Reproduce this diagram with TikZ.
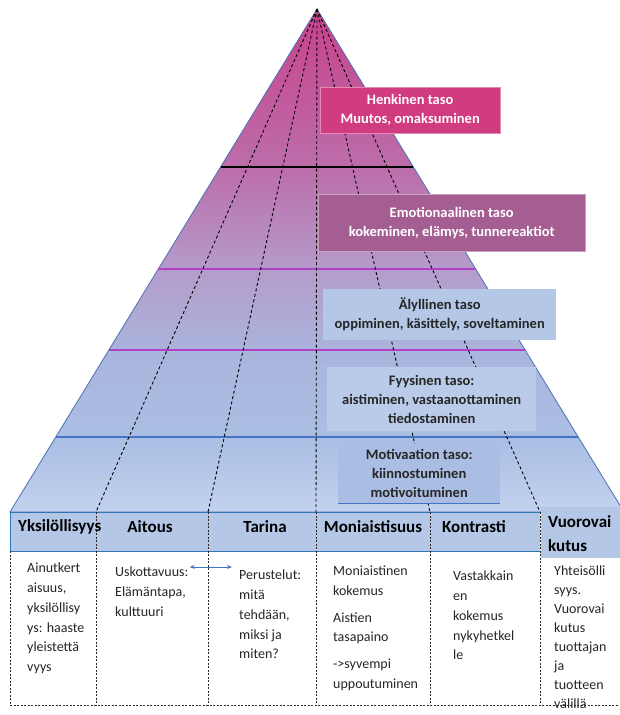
\documentclass[tikz,border=0pt]{standalone}
\usepackage{fontspec}
\setmainfont{Carlito}
\usepackage{tikz}
\usetikzlibrary{calc, positioning, arrows.meta}
\definecolor{pyrTop}{HTML}{C8418A}
\definecolor{pyrMauve}{HTML}{BC6EAB}
\definecolor{pyrLilac}{HTML}{B49CCB}
\definecolor{pyrLav}{HTML}{AAB4DC}
\definecolor{pyrBlue}{HTML}{AABFE4}
\definecolor{pyrBase}{HTML}{C3D2EE}
\definecolor{edgeBlue}{HTML}{4A72B0}
\definecolor{henkiPink}{HTML}{D13C80}
\definecolor{emoMauve}{HTML}{A55E92}
\definecolor{lightBlue}{HTML}{B4C7E7}
\definecolor{paleBlue}{HTML}{B9CBE9}
\definecolor{motiBlue}{HTML}{AABEE3}
\definecolor{lineViolet}{HTML}{B040C4}
\definecolor{rowBlue}{HTML}{2E75B6}
\definecolor{arrowBlue}{HTML}{4472C4}
\definecolor{inkDark}{HTML}{262626}
\pgfdeclareverticalshading{pyramid}{100bp}{color(0bp)=(pyrBase); color(25bp)=(pyrBase);
  color(32bp)=(pyrBlue); color(41bp)=(pyrLav); color(49bp)=(pyrLilac);
  color(59bp)=(pyrMauve); color(75bp)=(pyrTop); color(100bp)=(pyrTop)}
\tikzset{
  levelbox/.style = {anchor=north west, align=center, inner sep=0pt,
                     font=\bfseries\fontsize{14.5}{19}\selectfont},
  fan/.style      = {draw=black, line width=0.9pt, dash pattern=on 3pt off 2.5pt},
  coldiv/.style   = {draw=inkDark, line width=0.6pt, dash pattern=on 2pt off 1.5pt},
  levelline/.style= {line width=1.2pt},
  headcell/.style = {anchor=north west, fill=lightBlue, inner sep=0pt},
  headtxt/.style  = {font=\bfseries\fontsize{17}{24}\selectfont, inner sep=0pt, text=black},
  celltxt/.style  = {anchor=north west, align=left, inner sep=0pt,
                     font=\fontsize{14}{19.7}\selectfont, text=inkDark},
  twoway/.style   = {{Stealth[length=1.8mm]}-{Stealth[length=1.8mm]}, draw=arrowBlue, line width=0.7pt}
}
\begin{document}
\begin{tikzpicture}[x=1pt, y=-1pt]
  \useasboundingbox (0,0) rectangle (619,715);
  \fill[white] (0,0) rectangle (619,715);

  % pyramid
  \coordinate (apex) at (317,9);
  \coordinate (baseL) at (10,512);
  \coordinate (baseR) at (624,512);
  \shadedraw[shading=pyramid, draw=edgeBlue, line width=0.8pt] (apex) -- (baseL) -- (baseR) -- cycle;
  \foreach \t/\c in {0.314/black, 0.517/lineViolet, 0.678/lineViolet, 0.851/arrowBlue}
    \draw[levelline, draw=\c] ($(apex)!\t!(baseL)$) -- ($(apex)!\t!(baseR)$);

  % column borders
  \foreach \i/\x in {1/96, 2/208, 3/316, 4/430, 5/540} {
    \coordinate (top\i) at (\x,512);
    \coordinate (bot\i) at (\x,705);
  }
  \coordinate (botL) at (10,705);
  \coordinate (botR) at (619,705);
  \foreach \i in {1,...,5} \draw[fan] (apex) -- (top\i);

  % levels
  \node[levelbox, fill=henkiPink, draw=henkiPink!60!white, text=white,
        minimum width=180, minimum height=46] (henkinen) at (320,87)
        {Henkinen taso\\Muutos, omaksuminen};
  \node[levelbox, fill=emoMauve, draw=emoMauve!60!white, text=white,
        minimum width=267, minimum height=57] (emotio) at (318,194)
        {Emotionaalinen taso\\kokeminen, elämys, tunnereaktiot};
  \node[levelbox, fill=lightBlue, text=inkDark,
        minimum width=233, minimum height=51] (alyl) at (323,289)
        {Älyllinen taso\\oppiminen, käsittely, soveltaminen};
  \node[levelbox, fill=paleBlue, text=inkDark,
        minimum width=209, minimum height=64] (fyys) at (327,367)
        {Fyysinen taso:\\aistiminen, vastaanottaminen\\tiedostaminen};
  \node[levelbox, fill=motiBlue, text=inkDark,
        minimum width=162, minimum height=59] (moti) at (338,444)
        {Motivaation taso:\\kiinnostuminen\\motivoituminen};
  \draw[arrowBlue, line width=0.9pt] (moti.south west) -- (moti.south east);

  % table
  \node[headcell, minimum width=530, minimum height=39] (headrow) at (10,512) {};
  \node[headcell, minimum width=80, minimum height=51] (vuorocell) at (541,507) {};
  \draw[rowBlue, line width=0.9pt] (headrow.north east) -- (headrow.north west)
    -- (headrow.south west) -- (headrow.south east);
  \foreach \i in {1,...,5} \draw[coldiv] (top\i) -- (bot\i);
  \draw[coldiv] (headrow.south west) -- (botL) -- (botR);

  \node[headtxt, anchor=west] (yks) at (18,527) {Yksilöllisyys};
  \node[headtxt] (aitous) at (150,527) {Aitous};
  \node[headtxt] (tarina) at (265,527) {Tarina};
  \node[headtxt] (moni) at (373,527) {Moniaistisuus};
  \node[headtxt] (kontr) at (474,527) {Kontrasti};
  \node[headtxt, anchor=north west, align=left] (vuoro) at (548,515) {Vuorovai\\kutus};

  \node[celltxt] (ainut) at (27,563) {Ainutkert\\aisuus,\\yksilöllisy\\ys: haaste\\yleistettä\\vyys};
  \node[celltxt] (usko) at (115,567) {Uskottavuus:\\Elämäntapa,\\kulttuuri};
  \node[celltxt] (perus) at (239,570) {Perustelut:\\mitä\\tehdään,\\miksi ja\\miten?};
  \node[celltxt] (moniais) at (333,566) {Moniaistinen\\kokemus\\[7pt]Aistien\\tasapaino\\[7pt]->syvempi\\uppoutuminen};
  \node[celltxt] (vasta) at (453,571) {Vastakkain\\en\\kokemus\\nykyhetkel\\le};
  \node[celltxt, font=\fontsize{14}{18.9}\selectfont] (yhteis) at (554,566)
    {Yhteisölli\\syys.\\Vuorovai\\kutus\\tuottajan\\ja\\tuotteen\\välillä};
  \draw[twoway] ([xshift=1pt]usko.north east) -- ([xshift=-7pt]usko.north east -| perus.west);
\end{tikzpicture}
\end{document}
